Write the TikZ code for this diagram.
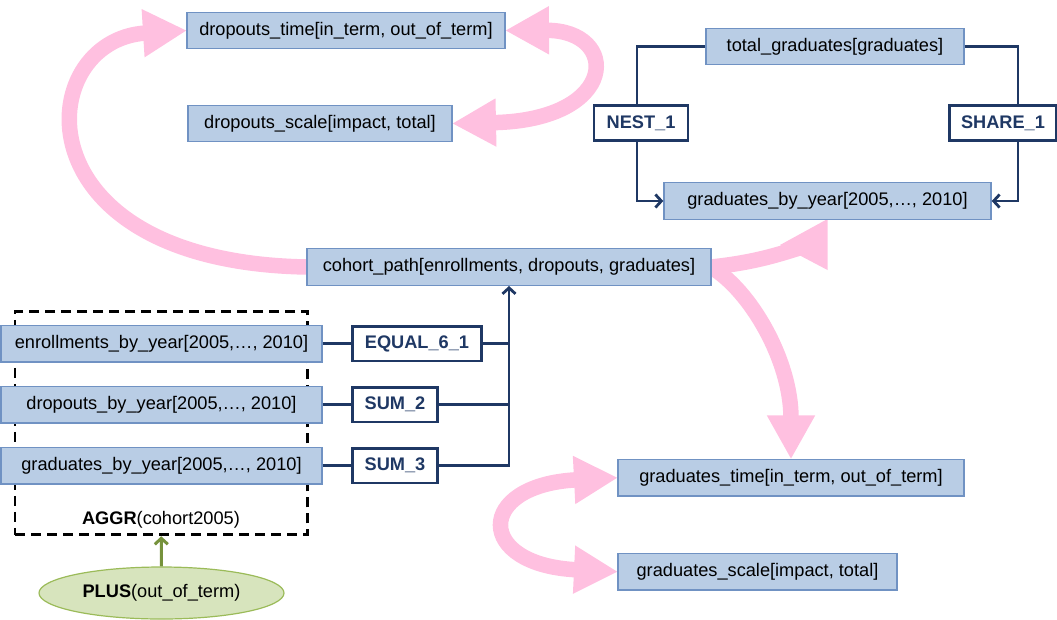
\documentclass[tikz,border=0pt]{standalone}
\usepackage{fontspec}
\setmainfont{Liberation Sans}
\usetikzlibrary{arrows.meta,shapes.geometric,calc}

\definecolor{boxfill}{RGB}{185,205,229}
\definecolor{boxline}{RGB}{112,146,195}
\definecolor{navy}{RGB}{31,56,100}
\definecolor{flowpink}{RGB}{255,192,224}
\definecolor{leaffill}{RGB}{215,228,189}
\definecolor{leafline}{RGB}{155,187,89}
\definecolor{leafarrow}{RGB}{118,146,60}

\begin{document}
\begin{tikzpicture}[x=1pt,y=-1pt,
  every node/.style={font=\fontsize{18.2}{21}\selectfont, inner sep=0pt},
  datum/.style={draw=boxline, fill=boxfill, line width=1.4pt, minimum height=36.5pt},
  op/.style={draw=navy, fill=white, line width=2.8pt, text=navy,
             font=\fontsize{18.2}{21}\selectfont\bfseries, minimum height=34.5pt},
  link/.style={draw=navy, line width=2.8pt},
  linktip/.style={-{Straight Barb[length=6pt,width=13pt]}},
  flow/.style={draw=flowpink, line width=15.5pt},
  >={Triangle[length=44pt,width=45pt]},
]
\useasboundingbox (0,0) rectangle (1057,619);

% anchor points of the boxes, so the flows can be drawn underneath them
\coordinate (dtW) at (187,30.5);
\coordinate (dtE) at (505,30.5);
\coordinate (dsE) at (452,123.5);
\coordinate (cpW) at (307,267);
\coordinate (cpE) at (711,267);
\coordinate (gtW) at (618,477.7);
\coordinate (gtN) at (791,459.4);
\coordinate (gsW) at (618,571.7);
\coordinate (gbyS) at (827.5,219);
\coordinate (headback) at (806,246);

% ---- pink flows ----
\draw[flow,->] (cpW) .. controls (15,262) and (32,40) .. (dtW);
\draw[flow,<->] (dtE) .. controls (620,30) and (620,120) .. (dsE);
\draw[flow,<->] (gtW) .. controls (475,485) and (475,565) .. (gsW);
\draw[flow,->] (cpE) .. controls (750,290) and (791,360) .. (gtN);
\draw[flow] (cpE) .. controls (760,262) and (785,252) .. (headback);
\fill[flowpink] (gbyS) -- (827.5,270) -- (780,245) -- cycle;

% ---- aggregation frame ----
\node[draw, line width=2.8pt, dash pattern=on 10pt off 6pt,
      minimum width=292.5pt, minimum height=223pt] (aggr) at (161.25,423.35) {};
\node (aggrlabel) at (161,520) {\textbf{AGGR}(cohort2005)};

% ---- data boxes ----
\node[datum, minimum width=318pt] (dt) at (346,30.5) {dropouts\_time[in\_term, out\_of\_term]};
\node[datum, minimum width=264pt] (ds) at (320,123.5) {dropouts\_scale[impact, total]};
\node[datum, minimum width=404pt] (cp) at (509,267) {cohort\_path[enrollments, dropouts, graduates]};
\node[datum, minimum width=258pt] (tg) at (835,46.5) {total\_graduates[graduates]};
\node[datum, minimum width=327pt] (gby1) at (827.5,201) {graduates\_by\_year[2005,…, 2010]};
\node[datum, minimum width=346pt] (gt) at (791,477.7) {graduates\_time[in\_term, out\_of\_term]};
\node[datum, minimum width=279pt] (gs) at (757.5,571.7) {graduates\_scale[impact, total]};
\node[datum, minimum width=321pt] (eby) at (161.5,343.7) {enrollments\_by\_year[2005,…, 2010]};
\node[datum, minimum width=321pt] (dby) at (161.5,404.7) {dropouts\_by\_year[2005,…, 2010]};
\node[datum, minimum width=321pt] (gby2) at (161.5,465.7) {graduates\_by\_year[2005,…, 2010]};

% ---- operator boxes ----
\node[op, minimum width=94pt] (nest) at (641,123) {NEST\_1};
\node[op, minimum width=107pt] (share) at (1003,123) {SHARE\_1};
\node[op, minimum width=129pt] (eq) at (417,343.7) {EQUAL\_6\_1};
\node[op, minimum width=85pt] (sum2) at (395,404.7) {SUM\_2};
\node[op, minimum width=85pt] (sum3) at (395,465.7) {SUM\_3};

% ---- operator links ----
\draw[link] (tg.west) -| ([xshift=-4pt]nest.north);
\draw[link,linktip] ([xshift=-4pt]nest.south) |- (gby1.west);
\draw[link] (tg.east) -| ([xshift=15pt]share.north);
\draw[link,linktip] ([xshift=15pt]share.south) |- (gby1.east);

\draw[link] (eby.east) -- (eq.west);
\draw[link] (dby.east) -- (sum2.west);
\draw[link] (gby2.east) -- (sum3.west);
\draw[link] (eq.east) -- (eq.east -| cp.south);
\draw[link] (sum2.east) -- (sum2.east -| cp.south);
\draw[link,linktip] (sum3.east) -| (cp.south);

% ---- filter ----
\node[ellipse, draw=leafline, fill=leaffill, line width=1.2pt,
      minimum width=245pt, minimum height=52pt] (plus) at (161.5,593) {\textbf{PLUS}(out\_of\_term)};
\draw[leafarrow, line width=3pt, -{Straight Barb[length=6pt,width=13pt]}] (plus.north) -- (aggr.south);
\end{tikzpicture}
\end{document}
